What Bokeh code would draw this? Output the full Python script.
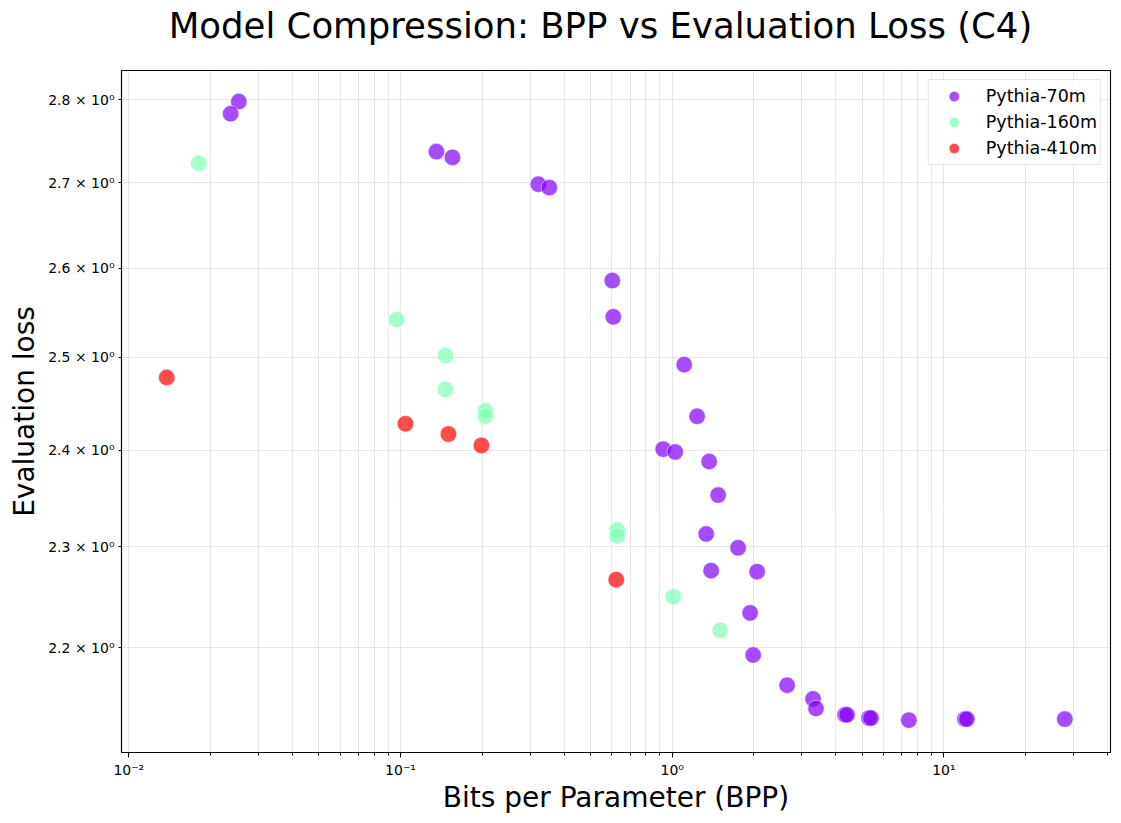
from bokeh.plotting import figure
from bokeh.models import Range1d, FixedTicker, Legend, LegendItem, Label
from bokeh.embed import file_html
from bokeh.resources import INLINE

# ---- data ----
series_names = ["Pythia-70m", "Pythia-160m", "Pythia-410m"]
series_colors = ["#8000ff", "#80ffb4", "#ff0000"]

bpp_70m = [0.0254, 0.0237, 0.1356, 0.1553, 0.3217, 0.3530, 0.6018, 0.6070,
           1.107, 1.235, 0.9266, 1.026, 1.368, 1.476, 1.334, 1.748, 1.391,
           2.054, 1.936, 1.986, 2.648, 3.299, 3.383, 4.325, 4.40, 5.30, 5.39,
           7.43, 11.95, 12.15, 27.86]
loss_70m = [2.798, 2.783, 2.737, 2.730, 2.698, 2.694, 2.586, 2.545,
            2.492, 2.436, 2.401, 2.398, 2.388, 2.353, 2.313, 2.299, 2.276,
            2.275, 2.234, 2.193, 2.164, 2.151, 2.142, 2.136, 2.136, 2.133, 2.133,
            2.131, 2.132, 2.132, 2.132]

bpp_160m = [0.01808, 0.0967, 0.1463, 0.1463, 0.2054, 0.2054, 0.6278, 0.6278,
            1.0085, 1.502]
loss_160m = [2.723, 2.542, 2.502, 2.465, 2.442, 2.436, 2.317, 2.311,
             2.250, 2.217]

bpp_410m = [0.01379, 0.1043, 0.1501, 0.1985, 0.6223]
loss_410m = [2.478, 2.428, 2.417, 2.405, 2.267]

x_tick_values = [0.01, 0.1, 1.0, 10.0]
x_tick_labels = ["10⁻²", "10⁻¹", "10⁰", "10¹"]
x_minor_ticks = [m * d for d in [0.01, 0.1, 1.0, 10.0] for m in range(2, 10)]
y_tick_values = [2.2, 2.3, 2.4, 2.5, 2.6, 2.7, 2.8]
y_tick_labels = ["2.2 × 10⁰", "2.3 × 10⁰", "2.4 × 10⁰", "2.5 × 10⁰",
                 "2.6 × 10⁰", "2.7 × 10⁰", "2.8 × 10⁰"]

TITLE = "Model Compression: BPP vs Evaluation Loss (C4)"
FONT = "DejaVu Sans"

p = figure(width=1113, height=821, x_axis_type="log", y_axis_type="log",
           output_backend="svg", toolbar_location=None,
           x_range=Range1d(0.009399, 41.04), y_range=Range1d(2.1009, 2.8365),
           min_border_left=121, min_border_right=3, min_border_top=70,
           min_border_bottom=69)

# title as a label in the panel above the frame
title = Label(x=479, y=45, x_units="screen", y_units="screen",
              text=TITLE, text_font=FONT, text_font_size="35.5px",
              text_color="black", text_align="center",
              text_baseline="alphabetic")
p.add_layout(title, "above")

p.outline_line_color = "black"
p.outline_line_width = 1.1
p.outline_line_alpha = 1.0

# axes
p.xaxis.ticker = FixedTicker(ticks=x_tick_values, minor_ticks=x_minor_ticks)
p.xaxis.major_label_overrides = dict(zip(x_tick_values, x_tick_labels))
p.yaxis.ticker = FixedTicker(ticks=y_tick_values, minor_ticks=[])
p.yaxis.major_label_overrides = dict(zip(y_tick_values, y_tick_labels))

for ax in (p.xaxis, p.yaxis):
    ax.axis_line_color = "black"
    ax.axis_line_width = 1.1
    ax.major_tick_line_color = "black"
    ax.minor_tick_line_color = "black"
    ax.major_tick_in = 0
    ax.minor_tick_in = 0
    ax.major_label_text_font = FONT
    ax.major_label_text_font_size = "14px"
    ax.major_label_text_color = "black"
    ax.axis_label_text_font = FONT
    ax.axis_label_text_font_size = "28px"
    ax.axis_label_text_font_style = "normal"
    ax.axis_label_text_color = "black"
    ax.major_label_standoff = 4

p.xaxis.axis_label_standoff = 0
p.yaxis.axis_label_standoff = 4
p.xaxis.major_tick_out = 5
p.xaxis.minor_tick_out = 3
p.yaxis.major_tick_out = 3
p.yaxis.minor_tick_out = 0
p.xaxis.axis_label = "Bits per Parameter (BPP)"
p.yaxis.axis_label = "Evaluation loss"

# grids
for g in (p.xgrid, p.ygrid):
    g.grid_line_color = "#b0b0b0"
    g.grid_line_alpha = 0.3
    g.grid_line_width = 1.1
p.xgrid.minor_grid_line_color = "#b0b0b0"
p.xgrid.minor_grid_line_alpha = 0.3
p.xgrid.minor_grid_line_width = 1.1

# scatter series
renderers = []
for xs, ys, col in [(bpp_70m, loss_70m, series_colors[0]),
                    (bpp_160m, loss_160m, series_colors[1]),
                    (bpp_410m, loss_410m, series_colors[2])]:
    r = p.scatter(xs, ys, size=16.5, fill_color=col, fill_alpha=0.7,
                  line_color="white", line_alpha=0.5, line_width=1)
    renderers.append(r)

legend = Legend(items=[LegendItem(label=n, renderers=[r])
                       for n, r in zip(series_names, renderers)],
                location="top_right")
legend.label_text_font = FONT
legend.label_text_font_size = "17.5px"
legend.label_text_color = "black"
legend.glyph_width = 44
legend.glyph_height = 26
legend.label_height = 26
legend.spacing = 0
legend.padding = 3
legend.margin = 9
legend.label_standoff = 10
legend.border_line_color = "#cccccc"
legend.border_line_width = 1
legend.background_fill_color = "white"
legend.background_fill_alpha = 0.8
p.add_layout(legend)

open("out.html", "w").write(file_html(p, INLINE))
